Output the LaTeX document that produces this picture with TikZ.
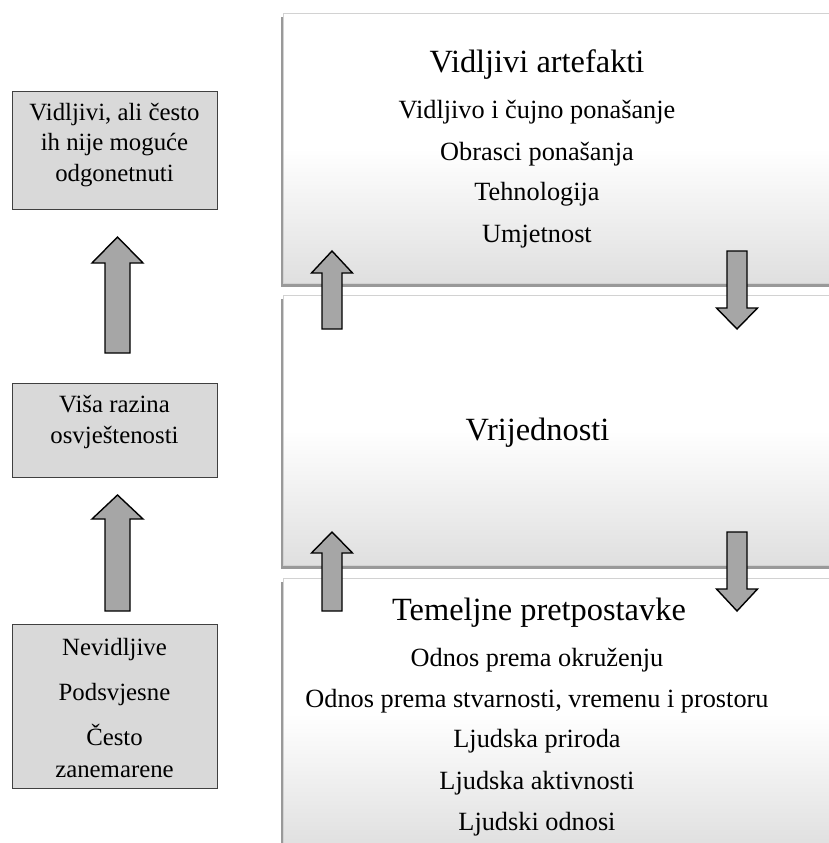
\documentclass[tikz,border=0pt]{standalone}
\usepackage{fontspec}
\setmainfont{Liberation Serif}
\usetikzlibrary{shadows}
\tikzset{
 bigbox/.style={draw=gray!35, line width=0.6pt, top color=white, bottom color=gray!25, middle color=white, minimum width=570pt, minimum height=270pt, anchor=north west, inner sep=0pt, drop shadow={shadow xshift=-2.5pt, shadow yshift=-3.5pt, fill=black, opacity=0.4}},
 sidebox/.style={draw=black!75, line width=1pt, fill=gray!30},
 blockarr/.style={draw=black, line width=1.4pt, fill=gray!70, line join=miter},
 ttl/.style={anchor=base, font=\fontsize{32.4}{38}\selectfont, inner sep=0pt},
 itm/.style={anchor=base, font=\fontsize{26.3}{31}\selectfont, inner sep=0pt},
 sml/.style={anchor=base, font=\fontsize{24.8}{30}\selectfont, inner sep=0pt},
}
\newcommand\blkarr[6]{\draw[blockarr] (#1-#5,#4) -- (#1-#5,#3) -- (#1-#6,#3) -- (#1,#2) -- (#1+#6,#3) -- (#1+#5,#3) -- (#1+#5,#4) -- cycle;}
\begin{document}
\begin{tikzpicture}[x=1pt,y=-1pt]
\useasboundingbox (0,0) rectangle (829,843);
\clip (0,0) rectangle (829,843);
\fill[white] (0,0) rectangle (829,843);
% right layered boxes
\node[bigbox] (B1) at (283,13) {};
\node[bigbox] (B2) at (283,295) {};
\node[bigbox] (B3) at (283,578) {};
% left boxes
\draw[sidebox] (12,91) rectangle (217,209);
\draw[sidebox] (12,383) rectangle (217,477);
\draw[sidebox] (12,624) rectangle (217,788);
% left texts
\node[sml] (l1a) at (114.5,120) {Vidljivi, ali često};
\node[sml] (l1b) at (114.5,150.5) {ih nije moguće};
\node[sml] (l1c) at (114.5,181) {odgonetnuti};
\node[sml] (l2a) at (114.5,412.5) {Viša razina};
\node[sml] (l2b) at (114.5,443.5) {osvještenosti};
\node[sml] (l3a) at (114.5,655) {Nevidljive};
\node[sml] (l3b) at (114.5,700.5) {Podsvjesne};
\node[sml] (l3c) at (114.5,745) {Često};
\node[sml] (l3d) at (114.5,777) {zanemarene};
% right texts
\node[ttl] (r1t) at (537,73) {Vidljivi artefakti};
\node[itm] (r1a) at (537,118) {Vidljivo i čujno ponašanje};
\node[itm] (r1b) at (537,160) {Obrasci ponašanja};
\node[itm] (r1c) at (537,200.5) {Tehnologija};
\node[itm] (r1d) at (537,242) {Umjetnost};
\node[ttl] (r2t) at (537.5,440) {Vrijednosti};
\node[ttl] (r3t) at (539,620) {Temeljne pretpostavke};
\node[itm] (r3a) at (537,666) {Odnos prema okruženju};
\node[itm] (r3b) at (537,707) {Odnos prema stvarnosti, vremenu i prostoru};
\node[itm] (r3c) at (537,747.5) {Ljudska priroda};
\node[itm] (r3d) at (537,789) {Ljudska aktivnosti};
\node[itm] (r3e) at (537,830) {Ljudski odnosi};
% left block arrows
\blkarr{117.5}{237}{263}{353}{12.5}{25.5}
\blkarr{117.5}{495}{519}{611}{12.5}{25.5}
% right up arrows
\blkarr{332}{251}{273}{329}{10}{20.5}
\blkarr{332}{532}{553}{611}{10}{20.5}
% right down arrows
\blkarr{737}{329}{308}{251}{10}{20.5}
\blkarr{737}{611}{589}{532}{10}{20.5}
\end{tikzpicture}
\end{document}
